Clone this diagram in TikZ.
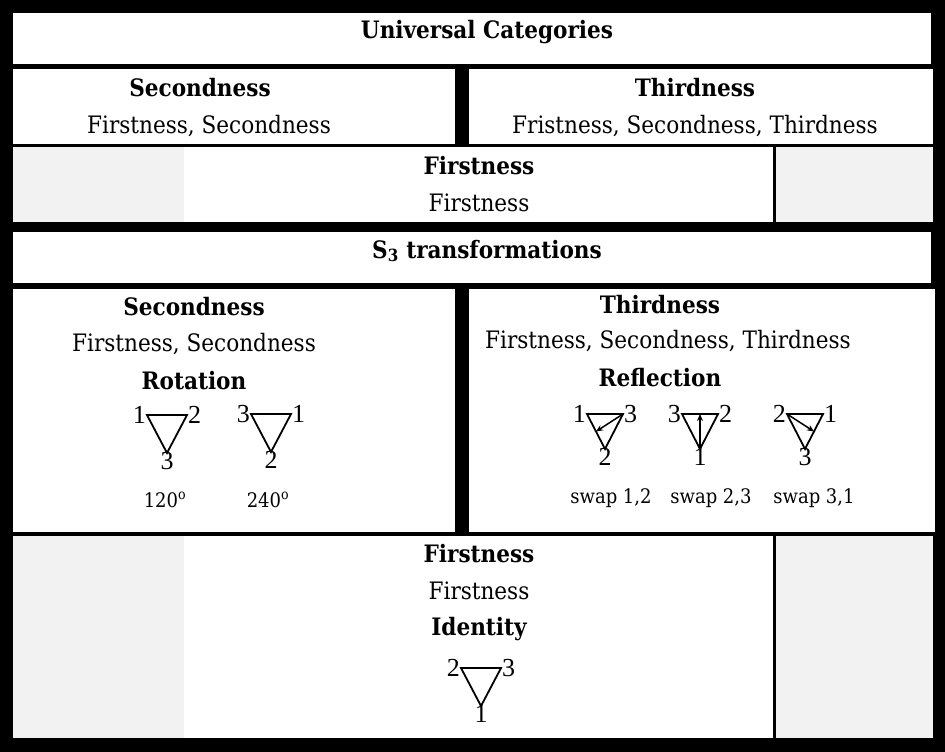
\documentclass[tikz,border=0pt]{standalone}
\usetikzlibrary{calc,arrows.meta}
\usepackage{fontspec}
\setmainfont{DejaVu Serif Condensed}
\newfontfamily\numfont{Liberation Serif}
\begin{document}
\begin{tikzpicture}[x=1pt,y=-1pt,
  panel/.style={fill=white},
  graypanel/.style={fill=black!5},
  head/.style={font=\fontsize{24}{28}\selectfont\bfseries},
  body/.style={font=\fontsize{24}{28}\selectfont},
  small/.style={font=\fontsize{20}{24}\selectfont},
  num/.style={font=\numfont\fontsize{26}{28}\selectfont, inner sep=0pt},
  tri/.style={line width=1.8pt},
  arr/.style={-{Stealth[length=7pt,width=6pt]}, line width=1.5pt}]
\fill[black] (0,0) rectangle (945,752);
\useasboundingbox (0,0) rectangle (945,752);
% panels
\fill[panel] (13,13) rectangle (931,64);
\fill[panel] (13,69) rectangle (455,144);
\fill[panel] (469,69) rectangle (933,144);
\fill[graypanel] (13,147) rectangle (184,222);
\fill[panel] (184,147) rectangle (773,222);
\fill[graypanel] (776,147) rectangle (933,222);
\fill[panel] (13,232) rectangle (931,283);
\fill[panel] (13,289) rectangle (455,532);
\fill[panel] (469,289) rectangle (935,532);
\fill[graypanel] (13,536) rectangle (184,738);
\fill[panel] (184,536) rectangle (773,738);
\fill[graypanel] (776,536) rectangle (933,738);
% texts
\node[head] (uc) at (487,32) {Universal Categories};
\node[head] (s1) at (200,88) {Secondness};
\node[body] (s1b) at (209,126) {Firstness, Secondness};
\node[head] (t1) at (695,88) {Thirdness};
\node[body] (t1b) at (695,126) {Fristness, Secondness, Thirdness};
\node[head] (f1) at (479,166) {Firstness};
\node[body] (f1b) at (479,203) {Firstness};
\node[head] (s3) at (487,251) {S\textsubscript{3} transformations};
\node[head] (s2) at (194,307) {Secondness};
\node[body] (s2b) at (194,344) {Firstness, Secondness};
\node[head] (rot) at (194,381) {Rotation};
\node[head] (t2) at (660,305) {Thirdness};
\node[body] (t2b) at (668,341) {Firstness, Secondness, Thirdness};
\node[head] (ref) at (660,378) {Reflection};
\node[head] (f2) at (479,554) {Firstness};
\node[body] (f2b) at (479,591) {Firstness};
\node[head] (id) at (479,629) {Identity};
% triangles
\newcommand\tri[7]{% name, cx, top y, halfwidth, height, left, right
  \coordinate (#1L) at (#2-#4,#3);
  \coordinate (#1R) at (#2+#4,#3);
  \coordinate (#1B) at (#2,#3+#5);
  \draw[tri,line join=miter] (#1L) -- (#1R) -- (#1B) -- cycle;
  \node[num,anchor=east] (#1l) at ([xshift=-1]#1L) {#6};
  \node[num,anchor=west] (#1r) at ([xshift=1]#1R) {#7};
}
\tri{a}{167}{415}{20}{38}{1}{2}
\node[num,anchor=north] (ab) at ([yshift=1]aB) {3};
\tri{b}{271}{414}{20}{38}{3}{1}
\node[num,anchor=north] (bb) at ([yshift=1]bB) {2};
\node[small] (r120) at (165,500) {120\textsuperscript{o}};
\node[small] (r240) at (268,500) {240\textsuperscript{o}};
\tri{c}{605}{414}{18}{35}{1}{3}
\node[num,anchor=north] (cb) at ([yshift=1]cB) {2};
\draw[arr] (cR) -- ($(cL)!0.5!(cB)$);
\tri{d}{700}{414}{18}{35}{3}{2}
\node[num,anchor=north] (db) at ([yshift=1]dB) {1};
\draw[arr] (dB) -- ($(dL)!0.5!(dR)$);
\tri{e}{805}{414}{18}{35}{2}{1}
\node[num,anchor=north] (eb) at ([yshift=1]eB) {3};
\draw[arr] (eL) -- ($(eR)!0.5!(eB)$);
\node[small] (w1) at (611,498) {swap 1,2};
\node[small] (w2) at (711,498) {swap 2,3};
\node[small] (w3) at (814,498) {swap 3,1};
\tri{f}{481}{668}{20}{38}{2}{3}
\node[num,anchor=north] (fb) at ([yshift=1]fB) {1};
\end{tikzpicture}
\end{document}
